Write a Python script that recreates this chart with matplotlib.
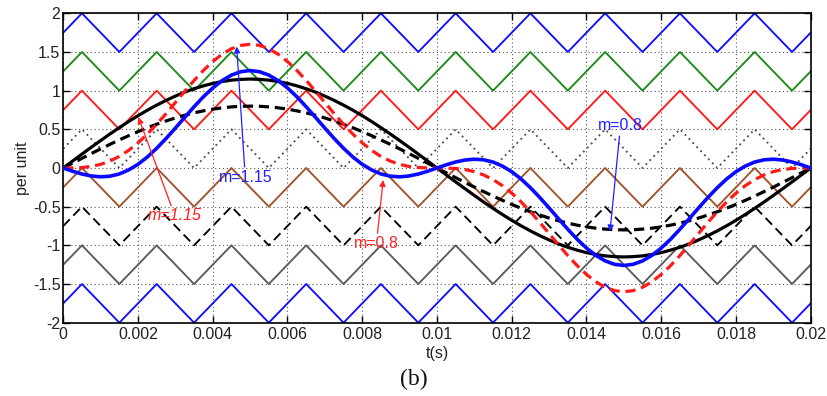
import matplotlib
matplotlib.use("Agg")
import matplotlib.pyplot as plt

plt.rcParams['font.family'] = ['Liberation Sans', 'DejaVu Sans']

# time grid of the reference signals (s), 0 .. 0.02 in 0.25 ms steps
t = [0.00025 * i for i in range(81)]

# sinusoidal reference, m = 1.15 (per unit)
ref_sine_115 = [0, 0.090, 0.180, 0.268, 0.355, 0.440, 0.522, 0.601, 0.676, 0.747, 0.813,
                0.874, 0.930, 0.981, 1.025, 1.062, 1.094, 1.118, 1.136, 1.146, 1.15,
                1.146, 1.136, 1.118, 1.094, 1.062, 1.025, 0.981, 0.930, 0.874, 0.813,
                0.747, 0.676, 0.601, 0.522, 0.440, 0.355, 0.268, 0.180, 0.090, 0,
                -0.090, -0.180, -0.268, -0.355, -0.440, -0.522, -0.601, -0.676, -0.747, -0.813,
                -0.874, -0.930, -0.981, -1.025, -1.062, -1.094, -1.118, -1.136, -1.146, -1.15,
                -1.146, -1.136, -1.118, -1.094, -1.062, -1.025, -0.981, -0.930, -0.874, -0.813,
                -0.747, -0.676, -0.601, -0.522, -0.440, -0.355, -0.268, -0.180, -0.090, 0]

# sinusoidal reference, m = 0.8
ref_sine_08 = [0, 0.063, 0.125, 0.187, 0.247, 0.306, 0.363, 0.418, 0.470, 0.520, 0.566,
               0.608, 0.647, 0.682, 0.713, 0.739, 0.761, 0.778, 0.790, 0.798, 0.8,
               0.798, 0.790, 0.778, 0.761, 0.739, 0.713, 0.682, 0.647, 0.608, 0.566,
               0.520, 0.470, 0.418, 0.363, 0.306, 0.247, 0.187, 0.125, 0.063, 0,
               -0.063, -0.125, -0.187, -0.247, -0.306, -0.363, -0.418, -0.470, -0.520, -0.566,
               -0.608, -0.647, -0.682, -0.713, -0.739, -0.761, -0.778, -0.790, -0.798, -0.8,
               -0.798, -0.790, -0.778, -0.761, -0.739, -0.713, -0.682, -0.647, -0.608, -0.566,
               -0.520, -0.470, -0.418, -0.363, -0.306, -0.247, -0.187, -0.125, -0.063, 0]

# reference with third-harmonic content, m = 1.15 (red dashed)
ref_thi_115 = [0, 0.001, 0.006, 0.020, 0.047, 0.090, 0.150, 0.228, 0.325, 0.438, 0.566,
               0.703, 0.847, 0.992, 1.132, 1.262, 1.376, 1.471, 1.542, 1.585, 1.6,
               1.585, 1.542, 1.471, 1.376, 1.262, 1.132, 0.992, 0.847, 0.703, 0.566,
               0.438, 0.325, 0.228, 0.150, 0.090, 0.047, 0.020, 0.006, 0.001, 0,
               -0.001, -0.006, -0.020, -0.047, -0.090, -0.150, -0.228, -0.325, -0.438, -0.566,
               -0.703, -0.847, -0.992, -1.132, -1.262, -1.376, -1.471, -1.542, -1.585, -1.6,
               -1.585, -1.542, -1.471, -1.376, -1.262, -1.132, -0.992, -0.847, -0.703, -0.566,
               -0.438, -0.325, -0.228, -0.150, -0.090, -0.047, -0.020, -0.006, -0.001, 0]

# reference with third-harmonic content, m = 0.8 (blue)
ref_thi_08 = [0, -0.042, -0.078, -0.103, -0.114, -0.106, -0.077, -0.025, 0.048, 0.142, 0.255,
              0.381, 0.516, 0.655, 0.792, 0.921, 1.035, 1.130, 1.201, 1.245, 1.26,
              1.245, 1.201, 1.130, 1.035, 0.921, 0.792, 0.655, 0.516, 0.381, 0.255,
              0.142, 0.048, -0.025, -0.077, -0.106, -0.114, -0.103, -0.078, -0.042, 0,
              0.042, 0.078, 0.103, 0.114, 0.106, 0.077, 0.025, -0.048, -0.142, -0.255,
              -0.381, -0.516, -0.655, -0.792, -0.921, -1.035, -1.130, -1.201, -1.245, -1.26,
              -1.245, -1.201, -1.130, -1.035, -0.921, -0.792, -0.655, -0.516, -0.381, -0.255,
              -0.142, -0.048, 0.025, 0.077, 0.106, 0.114, 0.103, 0.078, 0.042, 0]

# triangular carriers: vertex times and unit shape, one band per level
carrier_t = [0.0] + [0.0005 + 0.001 * k for k in range(20)] + [0.02]
carrier_unit = [0.25] + [0.5 if k % 2 == 0 else 0.0 for k in range(20)] + [0.25]
carrier_bottoms = [1.5, 1.0, 0.5, 0.0, -0.5, -1.0, -1.5, -2.0]
carrier_colors = ['#1010ff', '#1a8a1a', '#ff1a1a', '#505050', '#a0522d', '#000000', '#5a5a5a', '#1010ff']
carrier_styles = ['-', '-', '-', (0, (1, 2.0)), '-', (0, (5, 2.7)), '-', '-']

xticks = [0, 0.002, 0.004, 0.006, 0.008, 0.01, 0.012, 0.014, 0.016, 0.018, 0.02]
xticklabels = ['0', '0.002', '0.004', '0.006', '0.008', '0.01', '0.012', '0.014', '0.016', '0.018', '0.02']
yticks = [-2, -1.5, -1, -0.5, 0, 0.5, 1, 1.5, 2]
yticklabels = ['-2', '-1.5', '-1', '-0.5', '0', '0.5', '1', '1.5', '2']

fig = plt.figure(figsize=(8.27, 3.96), dpi=100)
ax = fig.add_axes([0.0765, 0.1851, 0.9038, 0.7813])

for lo, c, ls in zip(carrier_bottoms, carrier_colors, carrier_styles):
    ax.plot(carrier_t, [lo + u for u in carrier_unit], color=c, lw=1.35, linestyle=ls, zorder=2)

ax.plot(t, ref_sine_115, color='black', lw=2.3, zorder=3)
ax.plot(t, ref_sine_08, color='black', lw=2.3, linestyle=(0, (3.2, 1.8)), zorder=3)
ax.plot(t, ref_thi_115, color='#ff1a1a', lw=2.3, linestyle=(0, (3.2, 1.8)), zorder=4)
ax.plot(t, ref_thi_08, color='#0a0aff', lw=2.6, zorder=5)

ax.set_xlim(0, 0.02)
ax.set_ylim(-2, 2)
ax.set_xticks(xticks)
ax.set_xticklabels(xticklabels)
ax.set_yticks(yticks)
ax.set_yticklabels(yticklabels)
ax.tick_params(direction='in', length=5, width=1, top=True, right=True,
               labelsize=11.5, labelcolor='#222222')
ax.tick_params(axis='y', pad=2)
ax.tick_params(axis='x', pad=3)
ax.grid(True, linestyle=(0, (1, 2.5)), color='#555555', lw=0.8)
for s in ax.spines.values():
    s.set_linewidth(1.2)

ax.set_xlabel('t(s)', fontsize=11.5, color='#222222', labelpad=3)
ax.set_ylabel('per unit', fontsize=11.5, color='#222222', labelpad=2)

arrow_kw = dict(arrowstyle='-|>', lw=0.9, mutation_scale=9, shrinkA=0, shrinkB=0)
ax.annotate('m=1.15', xy=(0.00201, 0.655), xytext=(0.00299, -0.62), color='#ff2020',
            fontsize=11.5, fontstyle='italic', ha='center', va='center',
            arrowprops=dict(color='#ff2020', **arrow_kw), zorder=6)
ax.annotate('m=1.15', xy=(0.00464, 1.57), xytext=(0.00487, -0.12), color='#2020ff',
            fontsize=11.5, ha='center', va='center',
            arrowprops=dict(color='#2020ff', **arrow_kw), zorder=6)
ax.annotate('m=0.8', xy=(0.00856, -0.155), xytext=(0.00838, -0.976), color='#ff2020',
            fontsize=11.5, ha='center', va='center',
            arrowprops=dict(color='#ff2020', **arrow_kw), zorder=6)
ax.annotate('m=0.8', xy=(0.01463, -0.82), xytext=(0.01491, 0.545), color='#2020ff',
            fontsize=11.5, ha='center', va='center',
            arrowprops=dict(color='#2020ff', **arrow_kw), zorder=6)

fig.text(0.5, 0.043, '(b)', fontsize=17, family=['Liberation Serif', 'DejaVu Serif'],
         ha='center', va='center', color='#111111')

fig.savefig('out.png', dpi=100)
